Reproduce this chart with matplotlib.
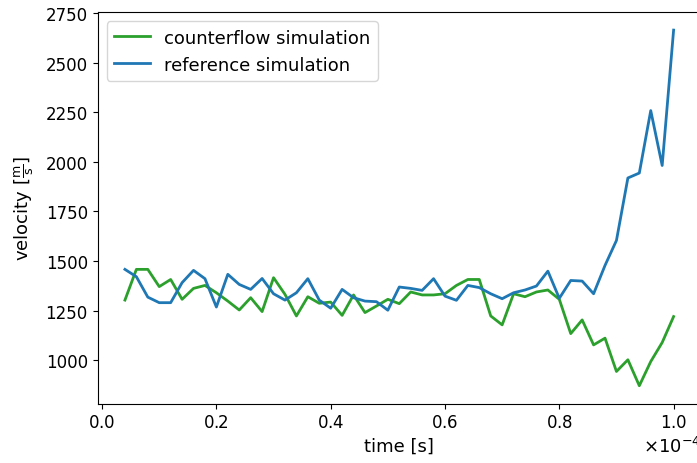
import matplotlib
matplotlib.use("Agg")
import matplotlib.pyplot as plt

# sample times in units of 1e-4 s
time_e4 = [0.04, 0.06, 0.08, 0.10, 0.12, 0.14, 0.16, 0.18, 0.20, 0.22,
           0.24, 0.26, 0.28, 0.30, 0.32, 0.34, 0.36, 0.38, 0.40, 0.42,
           0.44, 0.46, 0.48, 0.50, 0.52, 0.54, 0.56, 0.58, 0.60, 0.62,
           0.64, 0.66, 0.68, 0.70, 0.72, 0.74, 0.76, 0.78, 0.80, 0.82,
           0.84, 0.86, 0.88, 0.90, 0.92, 0.94, 0.96, 0.98, 1.00]

counterflow = [1303, 1458, 1458, 1371, 1407, 1307, 1362, 1377, 1340, 1298,
               1253, 1315, 1245, 1416, 1332, 1223, 1320, 1287, 1293, 1226,
               1329, 1240, 1273, 1307, 1285, 1344, 1329, 1329, 1335, 1377,
               1407, 1407, 1223, 1178, 1335, 1320, 1344, 1354, 1307, 1134,
               1203, 1077, 1111, 943, 1002, 871, 993, 1089, 1220]

reference = [1458, 1421, 1318, 1290, 1290, 1391, 1453, 1411, 1268, 1433,
             1382, 1357, 1412, 1335, 1303, 1340, 1411, 1303, 1262, 1357,
             1315, 1298, 1295, 1252, 1369, 1362, 1352, 1411, 1323, 1302,
             1377, 1366, 1335, 1310, 1340, 1354, 1374, 1449, 1312, 1402,
             1399, 1335, 1478, 1604, 1919, 1944, 2259, 1982, 2665]

time = [t * 1e-4 for t in time_e4]

plt.rcParams["font.size"] = 12

fig = plt.figure(figsize=(6.97, 4.64), dpi=100)
ax = fig.add_axes([0.1399, 0.1282, 0.8659, 0.8431])

ax.plot(time, counterflow, color="tab:green", lw=2, label="counterflow simulation")
ax.plot(time, reference, color="tab:blue", lw=2, label="reference simulation")

ax.ticklabel_format(axis="x", style="sci", scilimits=(0, 0), useMathText=True)
ax.xaxis.get_offset_text().set_fontsize(13)

ax.set_xlabel("time [s]", fontsize=13)
ax.set_ylabel(r"velocity [$\frac{\mathrm{m}}{\mathrm{s}}$]", fontsize=13, labelpad=7)
ax.legend(loc="upper left", fontsize=13)

fig.savefig("out.png", dpi=100)
